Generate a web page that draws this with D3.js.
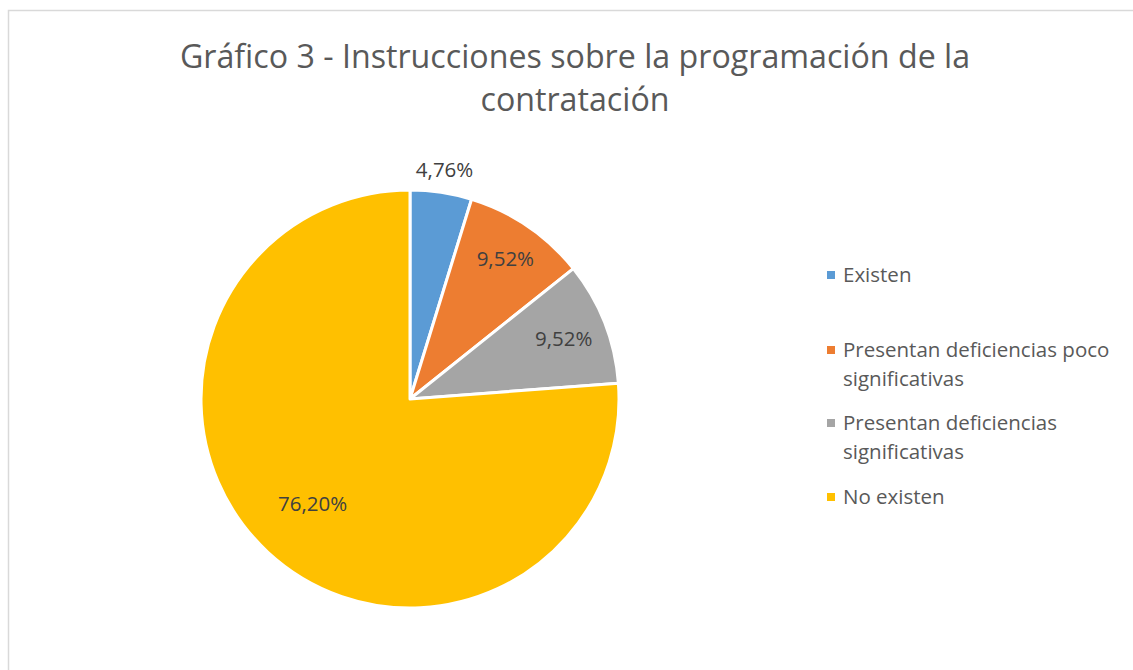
<!DOCTYPE html>
<html>
<head>
<meta charset="utf-8">
<script src="https://cdn.jsdelivr.net/npm/d3@7.9.0/dist/d3.min.js"></script>
<style>
  body { margin: 0; background: #fff; }
  svg { display: block; font-family: "Open Sans", sans-serif; }
</style>
</head>
<body>
<svg id="chart" width="1133" height="670"></svg>
<script>
const categories = ['Existen', 'Presentan deficiencias poco significativas', 'Presentan deficiencias significativas', 'No existen'];
const values = [4.76, 9.52, 9.52, 76.20];
const labels = ['4,76%', '9,52%', '9,52%', '76,20%'];
const legendLines = [['Existen'], ['Presentan deficiencias poco', 'significativas'], ['Presentan deficiencias', 'significativas'], ['No existen']];
const titleLines = ['Gráfico 3 - Instrucciones sobre la programación de la', 'contratación'];
const colors = ['#5b9bd5', '#ed7d31', '#a5a5a5', '#ffc000'];

const svg = d3.select('#chart');

// chart frame
svg.append('rect')
  .attr('x', 8.5).attr('y', 10.5)
  .attr('width', 1140).attr('height', 670)
  .attr('fill', '#fff')
  .attr('stroke', '#d9d9d9')
  .attr('stroke-width', 1.5);

// title
svg.append('g')
  .selectAll('text')
  .data(titleLines)
  .join('text')
  .attr('x', 575)
  .attr('y', (d, i) => 68 + i * 43)
  .attr('text-anchor', 'middle')
  .attr('font-size', 32.2)
  .attr('fill', '#595959')
  .text(d => d);

const data = categories.map((c, i) => ({ label: c, value: values[i], text: labels[i] }));

const pie = d3.pie().value(d => d.value).sort(null);
const radius = 209;
const arc = d3.arc().innerRadius(0).outerRadius(radius);

const g = svg.append('g').attr('transform', 'translate(410, 399)');
const arcs = pie(data);

g.selectAll('path')
  .data(arcs)
  .join('path')
  .attr('d', arc)
  .attr('fill', (d, i) => colors[i])
  .attr('stroke', '#fff')
  .attr('stroke-width', 3)
  .attr('stroke-linejoin', 'round');

// label distance from centre, as a fraction of the radius (first one sits outside)
const labelDist = [1.11, 0.81, 0.79, 0.685];
const labelArc = (d, i) => d3.arc().innerRadius(radius * labelDist[i]).outerRadius(radius * labelDist[i]).centroid(d);

g.selectAll('text.lbl')
  .data(arcs)
  .join('text')
  .attr('class', 'lbl')
  .attr('transform', (d, i) => `translate(${labelArc(d, i)})`)
  .attr('text-anchor', 'middle')
  .attr('dy', '0.35em')
  .attr('font-size', 20.5)
  .attr('fill', '#404040')
  .text(d => d.data.text);

// legend
const legendY = [275, 350, 423, 497];
const legend = svg.append('g');
legendLines.forEach((lines, i) => {
  const row = legend.append('g').attr('transform', `translate(827, ${legendY[i]})`);
  row.append('rect')
    .attr('x', 0).attr('y', -4)
    .attr('width', 8).attr('height', 8)
    .attr('fill', colors[i]);
  row.selectAll('text')
    .data(lines)
    .join('text')
    .attr('x', 16)
    .attr('y', (d, j) => j * 29)
    .attr('dy', '0.35em')
    .attr('font-size', 20.5)
    .attr('fill', '#595959')
    .text(d => d);
});
</script>
</body>
</html>
